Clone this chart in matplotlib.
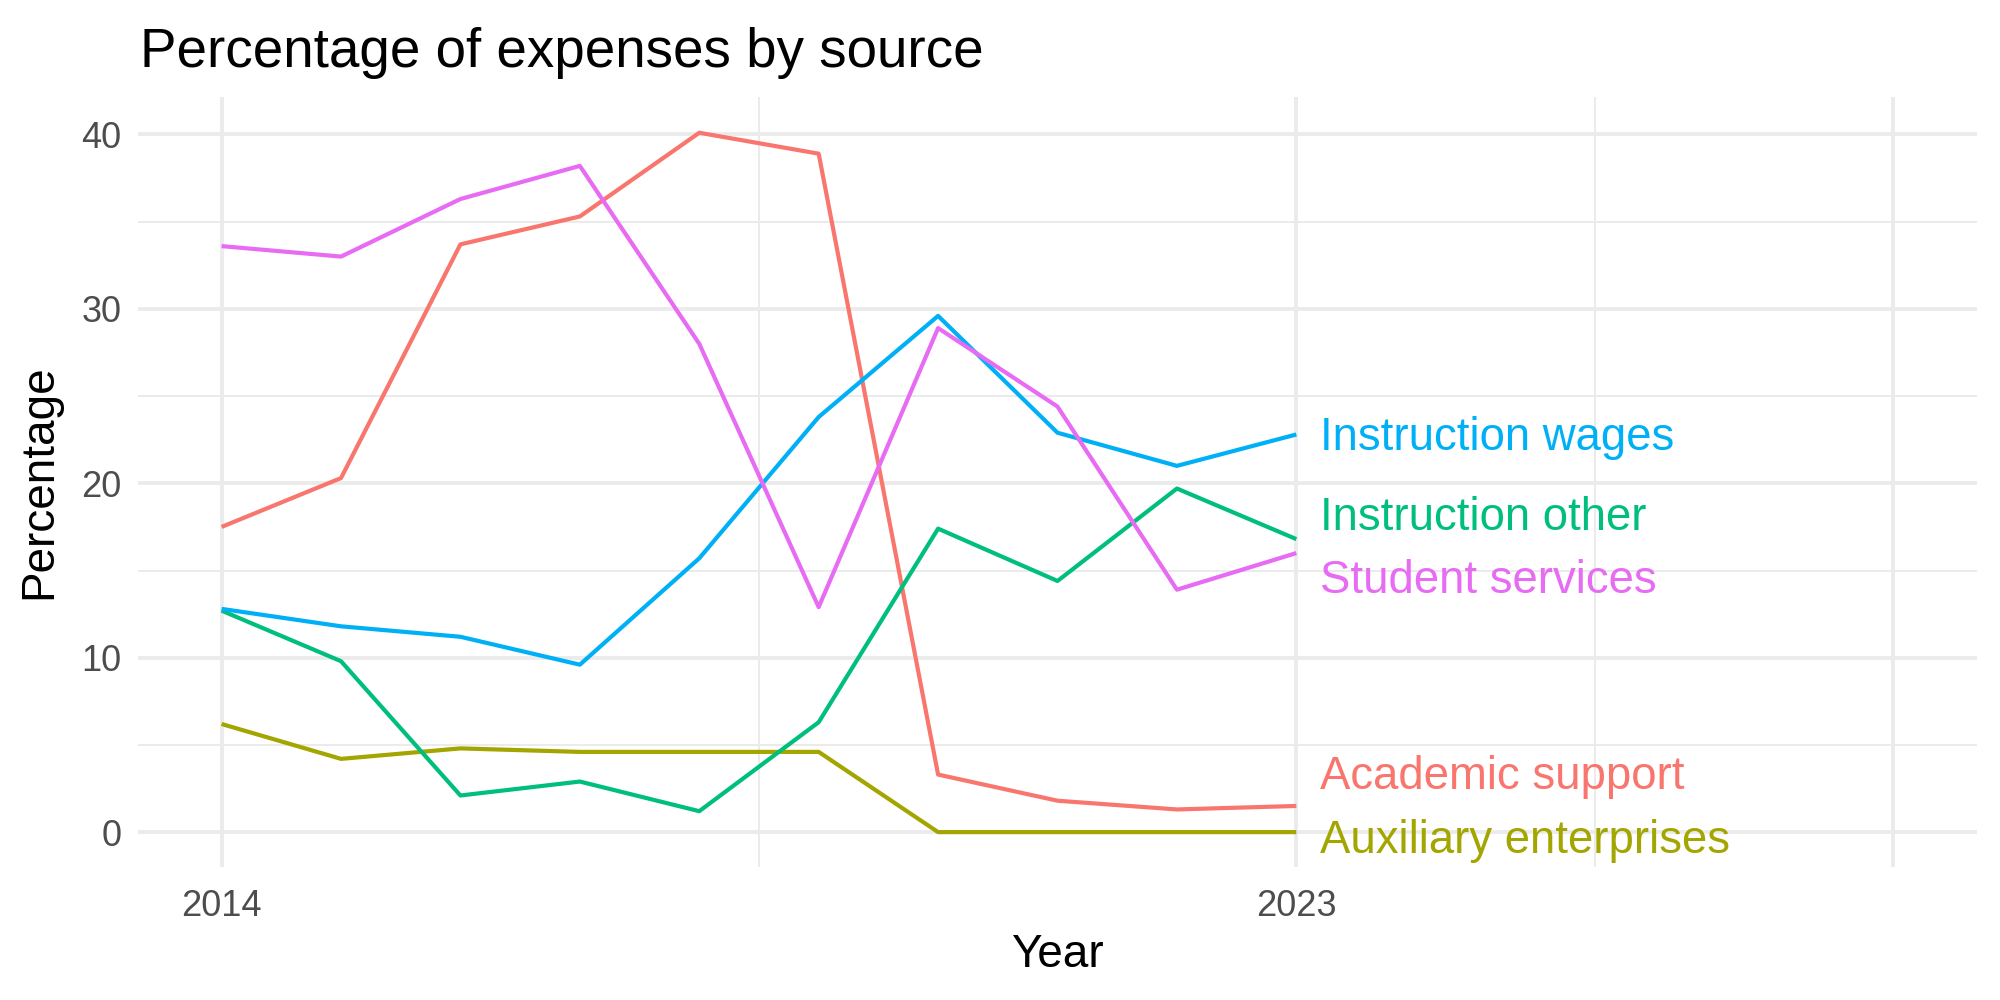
import matplotlib
matplotlib.use("Agg")
import matplotlib.pyplot as plt

plt.rcParams['font.family'] = ['Liberation Sans', 'DejaVu Sans']

years = [2014, 2015, 2016, 2017, 2018, 2019, 2020, 2021, 2022, 2023]
academic_support = [17.5, 20.3, 33.7, 35.3, 40.1, 38.9, 3.3, 1.8, 1.3, 1.5]
auxiliary_enterprises = [6.2, 4.2, 4.8, 4.6, 4.6, 4.6, 0.0, 0.0, 0.0, 0.0]
instruction_other = [12.7, 9.8, 2.1, 2.9, 1.2, 6.3, 17.4, 14.4, 19.7, 16.8]
instruction_wages = [12.8, 11.8, 11.2, 9.6, 15.7, 23.8, 29.6, 22.9, 21.0, 22.8]
student_services = [33.6, 33.0, 36.3, 38.2, 28.0, 12.9, 28.9, 24.4, 13.9, 16.0]

series_names = ["Academic support", "Auxiliary enterprises", "Instruction other",
                "Instruction wages", "Student services"]
series_values = [academic_support, auxiliary_enterprises, instruction_other,
                 instruction_wages, student_services]
colors = ["#F8766D", "#A3A500", "#00BF7D", "#00B0F6", "#E76BF3"]
# label baselines after repelling (layout)
label_baseline = [2.5, -1.2, 17.3, 21.9, 13.7]

x_major = [2014, 2023, 2028]
x_labels = ["2014", "2023", ""]
x_minor = [2018.5, 2025.5]
y_major = [0, 10, 20, 30, 40]
y_minor = [5, 15, 25, 35]

fig = plt.figure(figsize=(10, 5), dpi=200)
ax = fig.add_axes([0.069, 0.133, 0.9195, 0.770])

for name, vals, c, lb in zip(series_names, series_values, colors, label_baseline):
    ax.plot(years, vals, color=c, lw=1.5, solid_capstyle='butt', zorder=3)
    ax.text(years[-1] + 0.2, lb, name, color=c, fontsize=16.4, va='baseline',
            ha='left', zorder=4)

ax.set_xlim(2013.3, 2028.7)
ax.set_ylim(-2.0, 42.15)
ax.set_xticks(x_major)
ax.set_xticklabels(x_labels)
ax.set_xticks(x_minor, minor=True)
ax.set_yticks(y_major)
ax.set_yticks(y_minor, minor=True)
ax.grid(which='major', color='#EBEBEB', lw=1.4, zorder=0)
ax.grid(which='minor', color='#EBEBEB', lw=0.7, zorder=0)
ax.set_axisbelow(True)
for s in ax.spines.values():
    s.set_visible(False)
ax.tick_params(which='both', length=0)
ax.tick_params(axis='both', labelsize=13, labelcolor='#4D4D4D')
ax.tick_params(axis='x', pad=8)
ax.tick_params(axis='y', pad=6)

ax.set_xlabel("Year", fontsize=16.5, color='black', labelpad=3)
ax.set_ylabel("Percentage", fontsize=16.5, color='black', labelpad=7)
fig.text(0.070, 0.933, "Percentage of expenses by source", fontsize=19.7,
         ha='left', va='baseline', color='black')

fig.savefig("out.png", dpi=200, facecolor='white')
